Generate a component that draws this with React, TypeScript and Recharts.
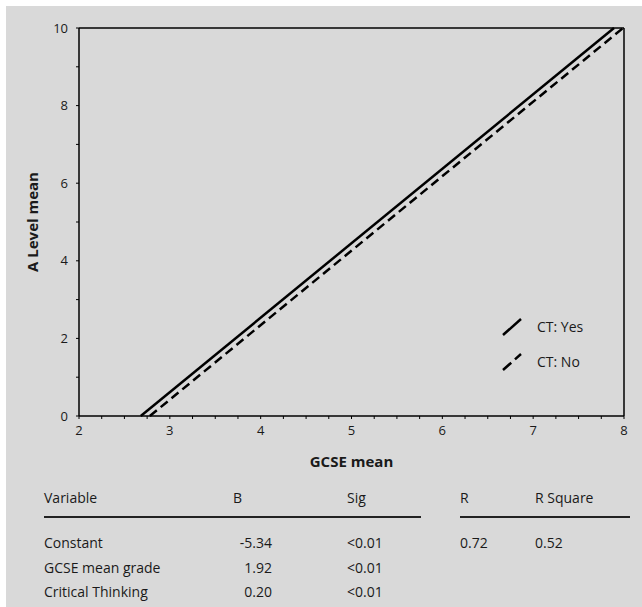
import React from 'react';
import { LineChart, Line, XAxis, YAxis } from 'recharts';

// fitted lines (start at A Level 0, end at A Level 10)
const ctYesX = [2.68, 7.89];
const ctYesY = [0, 10];
const ctNoX = [2.78, 7.99];
const ctNoY = [0, 10];

const xTicks = [2, 2.25, 2.5, 2.75, 3, 3.25, 3.5, 3.75, 4, 4.25, 4.5, 4.75, 5, 5.25, 5.5, 5.75, 6, 6.25, 6.5, 6.75, 7, 7.25, 7.5, 7.75, 8];
const yTicks = [0, 1, 2, 3, 4, 5, 6, 7, 8, 9, 10];
const xLabels = [2, 3, 4, 5, 6, 7, 8];
const yLabels = [0, 2, 4, 6, 8, 10];

// regression table
const variables = ['Constant', 'GCSE mean grade', 'Critical Thinking'];
const bValues = ['-5.34', '1.92', '0.20'];
const sigValues = ['<0.01', '<0.01', '<0.01'];
const rValues = ['0.72'];
const rSquareValues = ['0.52'];

const FONT = '"Open Sans", "Noto Sans", sans-serif';
const INK = '#1a1a1a';

const ctYes = ctYesX.map((x, i) => ({ x, y: ctYesY[i] }));
const ctNo = ctNoX.map((x, i) => ({ x, y: ctNoY[i] }));

const XTick = (p: any) =>
  xLabels.includes(p.payload.value) ? (
    <text x={p.x} y={p.y} dy="0.71em" textAnchor="middle" fontSize={13} fill={INK} fontFamily={FONT}>
      {p.payload.value}
    </text>
  ) : (
    <g />
  );

const YTick = (p: any) =>
  yLabels.includes(p.payload.value) ? (
    <text x={p.x} y={p.y} dy="0.35em" textAnchor="end" fontSize={13} fill={INK} fontFamily={FONT}>
      {p.payload.value}
    </text>
  ) : (
    <g />
  );

const Blank = () => <g />;

const YTitle = ({ viewBox }: any) => {
  const x = viewBox.x + 26;
  const y = viewBox.y + viewBox.height / 2;
  return (
    <text x={x} y={y} transform={`rotate(-90, ${x}, ${y})`} textAnchor="middle" dominantBaseline="central"
      fontSize={15} fontWeight="bold" fill={INK} fontFamily={FONT}>
      A Level mean
    </text>
  );
};

const legendItems = [
  { name: 'CT: Yes', dash: undefined },
  { name: 'CT: No', dash: '11 5' },
];

const LegendBox = () => (
  <div style={{ position: 'absolute', left: 501, top: 309, fontFamily: FONT, fontSize: 14, color: INK }}>
    {legendItems.map((it) => (
      <div key={it.name} style={{ display: 'flex', alignItems: 'center', height: 35 }}>
        <svg width={22} height={18} style={{ marginRight: 14 }}>
          <line x1={2} y1={17} x2={20} y2={1} stroke="#000" strokeWidth={2.5} strokeDasharray={it.dash} />
        </svg>
        <span>{it.name}</span>
      </div>
    ))}
  </div>
);

const cell = (left: number, top: number, text: string, align: 'left' | 'right' = 'left') => (
  <div
    key={`${left}-${top}-${text}`}
    style={{
      position: 'absolute',
      top: top - 10,
      height: 20,
      lineHeight: '20px',
      ...(align === 'left' ? { left } : { right: 642 - left }),
      whiteSpace: 'nowrap',
    }}
  >
    {text}
  </div>
);

const App: React.FC = () => {
  const rowY = [543, 568, 592];
  return (
    <div style={{ position: 'absolute', left: 0, top: 0, width: 642, height: 607, background: '#fff', overflow: 'hidden' }}>
      <div style={{ position: 'absolute', left: 6, top: 6, width: 636, height: 601, background: '#d9d9d9' }}>
        <LineChart width={636} height={475} margin={{ top: 22, right: 18, bottom: 10, left: 0 }}>
          <XAxis
            type="number"
            dataKey="x"
            domain={[2, 8]}
            ticks={xTicks}
            interval={0}
            height={55}
            tickSize={3}
            tickMargin={7}
            tick={XTick}
            axisLine={{ stroke: '#000', strokeWidth: 1.5 }}
            tickLine={{ stroke: '#000' }}
            label={{ value: 'GCSE mean', position: 'insideBottom', offset: 4, fontSize: 15, fontWeight: 'bold', fill: INK, fontFamily: FONT }}
          />
          <XAxis
            xAxisId="top"
            orientation="top"
            type="number"
            domain={[2, 8]}
            ticks={xTicks}
            interval={0}
            height={1}
            mirror
            tickSize={3}
            tick={Blank}
            axisLine={{ stroke: '#000', strokeWidth: 1.5 }}
            tickLine={{ stroke: '#000' }}
          />
          <YAxis
            type="number"
            domain={[0, 10]}
            ticks={yTicks}
            interval={0}
            width={73}
            tickSize={3}
            tickMargin={8}
            tick={YTick}
            axisLine={{ stroke: '#000', strokeWidth: 1.5 }}
            tickLine={{ stroke: '#000' }}
            label={<YTitle />}
          />
          <YAxis
            yAxisId="right"
            orientation="right"
            type="number"
            domain={[0, 10]}
            ticks={yTicks}
            interval={0}
            width={1}
            mirror
            tickSize={3}
            tick={Blank}
            axisLine={{ stroke: '#000', strokeWidth: 1.5 }}
            tickLine={{ stroke: '#000' }}
          />
          <Line data={ctYes} dataKey="y" name="CT: Yes" stroke="#000" strokeWidth={2.5} dot={false} isAnimationActive={false} />
          <Line data={ctNo} dataKey="y" name="CT: No" stroke="#000" strokeWidth={2.5} strokeDasharray="9 5" dot={false} isAnimationActive={false} />
        </LineChart>
      </div>

      <LegendBox />

      <div style={{ position: 'absolute', left: 0, top: 0, width: 642, height: 607, fontFamily: FONT, fontSize: 14, color: INK }}>
        {cell(44, 498, 'Variable')}
        {cell(233, 498, 'B')}
        {cell(347, 498, 'Sig')}
        {cell(460, 498, 'R')}
        {cell(535, 498, 'R Square')}
        <div style={{ position: 'absolute', left: 44, top: 516, width: 377, height: 1.5, background: '#222' }} />
        <div style={{ position: 'absolute', left: 460, top: 516, width: 170, height: 1.5, background: '#222' }} />
        {variables.map((v, i) => cell(44, rowY[i], v))}
        {bValues.map((v, i) => cell(272, rowY[i], v, 'right'))}
        {sigValues.map((v, i) => cell(347, rowY[i], v))}
        {rValues.map((v, i) => cell(460, rowY[i], v))}
        {rSquareValues.map((v, i) => cell(535, rowY[i], v))}
      </div>
    </div>
  );
};

export default App;
